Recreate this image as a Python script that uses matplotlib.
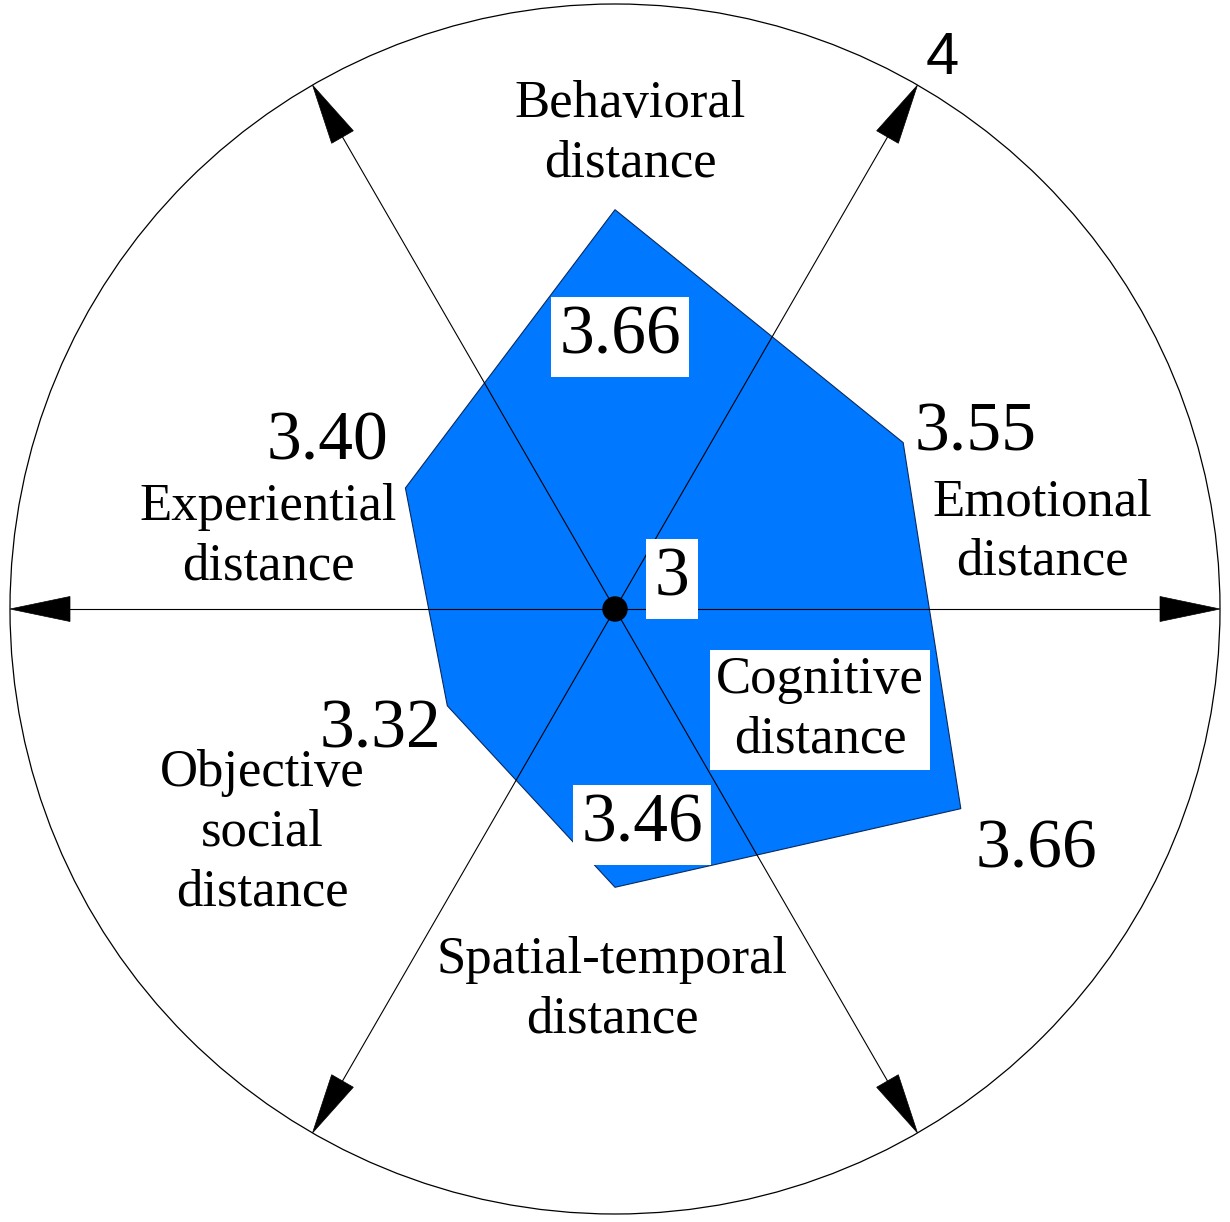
import matplotlib.pyplot as plt
import numpy as np
from matplotlib.patches import Circle, Polygon

# data
categories = ['Behavioral\ndistance', 'Emotional\ndistance', 'Cognitive\ndistance',
              'Spatial-temporal\ndistance', 'Objective\nsocial\ndistance', 'Experiential\ndistance']
values = [3.66, 3.55, 3.66, 3.46, 3.32, 3.40]
angles_deg = [90, 30, -30, -90, -150, 150]
r_min, r_max = 3, 4

# pixel framing of the reference: centre (615, 609), radius 605
W, H = 1230, 1222
CX, CY, R = 615, 609, 605


def P(px, py):
    # pixel position -> axes units (radius 1 == value 4)
    return (px - CX) / R, (CY - py) / R


fig = plt.figure(figsize=(W / 100, H / 100), dpi=100)
ax = fig.add_axes([0, 0, 1, 1])
ax.set_xlim(-CX / R, (W - CX) / R)
ax.set_ylim(-(H - CY) / R, CY / R)
ax.set_aspect('equal')
ax.axis('off')

serif = 'Liberation Serif'

# outer circle
ax.add_patch(Circle((0, 0), 1, fill=False, lw=0.9, ec='black', zorder=2))

# data polygon
ang = np.radians(angles_deg)
rr = (np.array(values) - r_min) / (r_max - r_min)
pts = np.column_stack([rr * np.cos(ang), rr * np.sin(ang)])
ax.add_patch(Polygon(pts, closed=True, fc='#0078FF', ec='#0a2a60', lw=0.8, zorder=1))

# axis lines with arrowheads at the circle
head_len, head_w = 60 / R, 12.5 / R
for a in [0, 60, 120, 180, 240, 300]:
    t = np.radians(a)
    d = np.array([np.cos(t), np.sin(t)])
    n = np.array([-d[1], d[0]])
    tip = d * 1.0
    base = d * (1.0 - head_len)
    ax.plot([0, base[0]], [0, base[1]], color='black', lw=0.8, zorder=2)
    tri = np.array([tip, base + n * head_w, base - n * head_w])
    ax.add_patch(Polygon(tri, closed=True, fc='black', ec='black', lw=0.5, zorder=3))

# centre dot
ax.add_patch(Circle((0, 0), 12 / R, fc='black', ec='black', zorder=5))

# category labels
cat_pos = [(630, 134), (1042, 532), (820, 710), (612, 990), (262, 833), (268, 537)]
for lab, (px, py) in zip(categories, cat_pos):
    kw = {}
    if lab.startswith('Cognitive'):
        kw['bbox'] = dict(boxstyle='square,pad=0.12', fc='white', ec='none')
    ax.text(*P(px, py), lab, fontsize=38, family=serif, ha='center', va='center',
            linespacing=1.32, zorder=4, **kw)

# value labels
val_pos = [(620, 337), (976, 434), (1036, 851), (642, 825), (380, 731), (327, 443)]
boxed = [True, False, False, True, False, False]
for v, (px, py), b in zip(values, val_pos, boxed):
    kw = {}
    if b:
        kw['bbox'] = dict(boxstyle='square,pad=0.12', fc='white', ec='none')
    ax.text(*P(px, py), f'{v:.2f}', fontsize=50, family=serif, ha='center', va='center',
            zorder=4, **kw)

# scale labels
ax.text(*P(672, 579), '3', fontsize=50, family=serif, ha='center', va='center', zorder=4,
        bbox=dict(boxstyle='square,pad=0.12', fc='white', ec='none'))
ax.text(*P(942, 58), '4', fontsize=43, family='Liberation Sans', ha='center', va='center',
        zorder=4)

fig.savefig('out.png', dpi=100, facecolor='white')
